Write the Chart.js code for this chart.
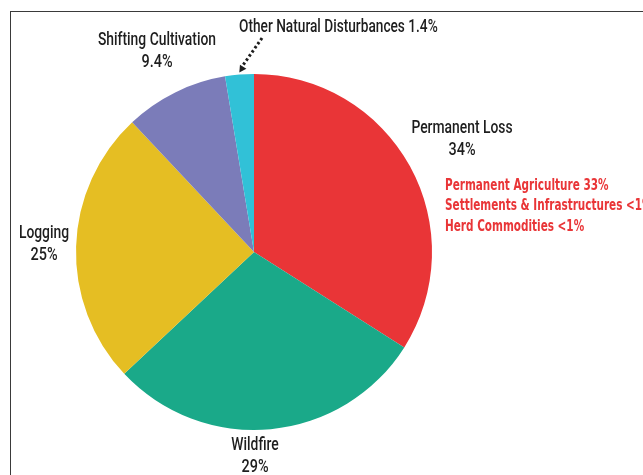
<!DOCTYPE html>
<html>
<head>
<meta charset="utf-8">
<script src="https://cdn.jsdelivr.net/npm/chart.js@4"></script>
<style>
  html, body { margin: 0; padding: 0; background: #fff; }
  #wrap { position: relative; width: 643px; height: 475px; overflow: hidden; }
  #frame {
    position: absolute; left: 10px; top: 11px; width: 700px; height: 500px;
    border-top: 1.5px solid #3a3a3a; border-left: 1.5px solid #3a3a3a;
  }
  canvas { position: absolute; left: 0; top: 0; }
</style>
</head>
<body>
<div id="wrap">
  <div id="frame"></div>
  <canvas id="pie" width="643" height="475"></canvas>
</div>
<script>
// Data
const categories = ["Permanent Loss", "Wildfire", "Logging", "Shifting Cultivation", "Other Natural Disturbances"];
const shareLabels = ["34%", "29%", "25%", "9.4%", "1.4%"];
// slice sizes as drawn in the picture (the small slice is drawn wider than its label)
const sliceShares = [34, 29, 25, 9.4, 2.6];
const sliceColors = ["#e93537", "#1aa989", "#e5be23", "#7b7cb9", "#31c1d7"];
const permanentBreakdown = ["Permanent Agriculture 33%", "Settlements & Infrastructures <1%", "Herd Commodities <1%"];

const LABEL_FONT = '500 19px Roboto, "DejaVu Sans Condensed", sans-serif';
const RED_FONT = 'bold 15px "DejaVu Sans Condensed", Roboto, sans-serif';

// draws text squeezed horizontally, to get close to the narrow poster face
function condensedText(ctx, text, x, y, align, squeeze) {
  const w = ctx.measureText(text).width * squeeze;
  let left = x;
  if (align === "center") left = x - w / 2;
  else if (align === "right") left = x - w;
  ctx.save();
  ctx.translate(left, y);
  ctx.scale(squeeze, 1);
  ctx.textAlign = "left";
  ctx.fillText(text, 0, 0);
  ctx.restore();
}

// label anchors, as offsets from the pie centre
const labelSpots = [
  { dx: 208, dy: -124, align: "center" },
  { dx: 1, dy: 193, align: "center" },
  { dx: -210, dy: -19, align: "center" },
  { dx: -97, dy: -212, align: "center" },
  { dx: -15, dy: -225, align: "left" },
];

const labelPlugin = {
  id: "labels",
  afterDatasetsDraw(chart) {
    const ctx = chart.ctx;
    const arcs = chart.getDatasetMeta(0).data;
    const cx = arcs[0].x, cy = arcs[0].y;
    ctx.save();
    ctx.fillStyle = "#1e1e1e";
    ctx.textBaseline = "middle";
    ctx.font = LABEL_FONT;
    categories.forEach((name, i) => {
      const s = labelSpots[i];
      const x = cx + s.dx, y = cy + s.dy;
      if (i === 4) {
        condensedText(ctx, name + " " + shareLabels[i], x, y, s.align, 0.72);
      } else {
        condensedText(ctx, name, x, y, s.align, 0.73);
        condensedText(ctx, shareLabels[i], x, y + 22, s.align, 0.76);
      }
    });

    // breakdown of permanent loss
    ctx.fillStyle = "#e93537";
    ctx.font = RED_FONT;
    permanentBreakdown.forEach((t, j) => {
      condensedText(ctx, t, cx + 191, cy - 66 + j * 20.5, "left", 0.775);
    });

    // dotted arrow to the small slice
    const a = arcs[4];
    const mid = (a.startAngle + a.endAngle) / 2;
    const tipX = a.x + Math.cos(mid) * (a.outerRadius + 2);
    const tipY = a.y + Math.sin(mid) * (a.outerRadius + 2);
    const fromX = cx + 8, fromY = cy - 214;
    ctx.strokeStyle = "#1e1e1e";
    ctx.lineWidth = 3;
    ctx.setLineDash([2.5, 2.5]);
    ctx.beginPath();
    ctx.moveTo(fromX, fromY);
    ctx.lineTo(tipX + 2, tipY - 5);
    ctx.stroke();
    ctx.setLineDash([]);
    const ang = Math.atan2(tipY - fromY, tipX - fromX);
    ctx.fillStyle = "#1e1e1e";
    ctx.beginPath();
    ctx.moveTo(tipX, tipY);
    ctx.lineTo(tipX - 8 * Math.cos(ang - 0.5), tipY - 8 * Math.sin(ang - 0.5));
    ctx.lineTo(tipX - 8 * Math.cos(ang + 0.5), tipY - 8 * Math.sin(ang + 0.5));
    ctx.closePath();
    ctx.fill();
    ctx.restore();
  },
};

new Chart(document.getElementById("pie"), {
  type: "pie",
  data: {
    labels: categories,
    datasets: [{
      data: sliceShares,
      backgroundColor: sliceColors,
      borderWidth: 0,
    }],
  },
  options: {
    responsive: false,
    animation: false,
    layout: { padding: { left: 76, right: 211, top: 74, bottom: 45 } },
    plugins: { legend: { display: false }, tooltip: { enabled: false } },
  },
  plugins: [labelPlugin],
});
</script>
</body>
</html>
